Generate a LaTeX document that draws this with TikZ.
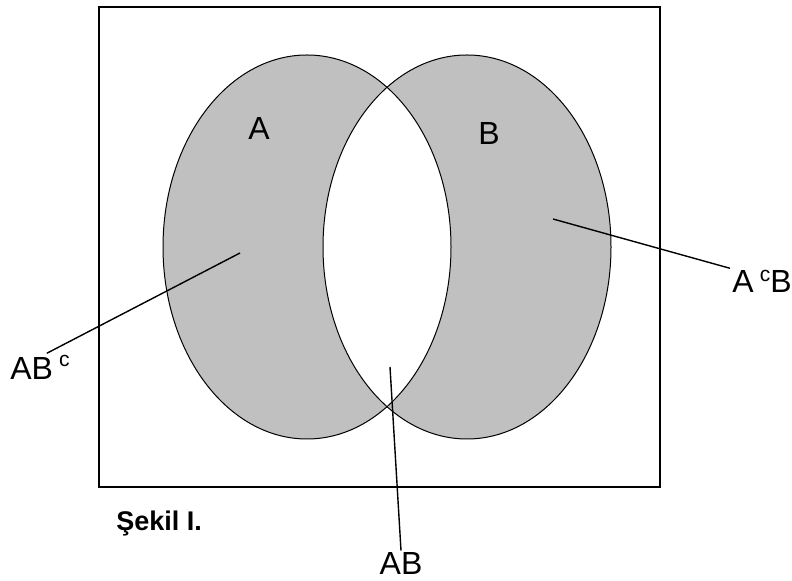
\documentclass[tikz,border=0pt]{standalone}
\usepackage{fontspec}
\setmainfont{Liberation Sans}
\usetikzlibrary{positioning}
\definecolor{setgray}{HTML}{C0C0C0}
\newcommand{\supc}[1]{\raisebox{#1}{\fontsize{10.5}{12}\selectfont c}}

\begin{document}
\begin{tikzpicture}[x=0.5pt,y=-0.5pt,
    lbl/.style={font=\fontsize{16}{19}\selectfont,inner sep=1pt},
    lead/.style={line width=0.7pt}]
  \useasboundingbox (0,0) rectangle (792,581);
  \coordinate (cA) at (307,247);
  \coordinate (cB) at (467,247);

  % the two sets, their common part left white
  \fill[setgray] (cA) ellipse [x radius=144, y radius=192];
  \fill[setgray] (cB) ellipse [x radius=144, y radius=192];
  \begin{scope}
    \clip (cA) ellipse [x radius=144, y radius=192];
    \fill[white] (cB) ellipse [x radius=144, y radius=192];
  \end{scope}
  \draw[line width=0.5pt] (cA) ellipse [x radius=144, y radius=192];
  \draw[line width=0.5pt] (cB) ellipse [x radius=144, y radius=192];
  \draw[line width=1pt] (99,7) rectangle (660,487);

  \node[lbl] (A) at (259,129) {A};
  \node[lbl] (B) at (489,134) {B};
  \node[lbl,anchor=base west] (abc) at (8,380) {AB\hspace{3pt}\supc{6.5pt}};
  \node[lbl,anchor=base west] (acb) at (730,293) {A\hspace{3pt}\supc{5.5pt}B};
  \node[lbl,anchor=base] (ab) at (401,575) {AB};
  \node[font=\bfseries\fontsize{13.5}{16}\selectfont,anchor=base west,inner sep=0pt] (sekil) at (116,531) {Şekil I.};

  \coordinate (inA) at (240,253);
  \coordinate (inB) at (553,219);
  \coordinate (inAB) at (390,367);
  \draw[lead] (inA) -- (abc.65);
  \draw[lead] (inB) -- (acb.north west);
  \draw[lead] (inAB) -- (ab.north);
\end{tikzpicture}
\end{document}
